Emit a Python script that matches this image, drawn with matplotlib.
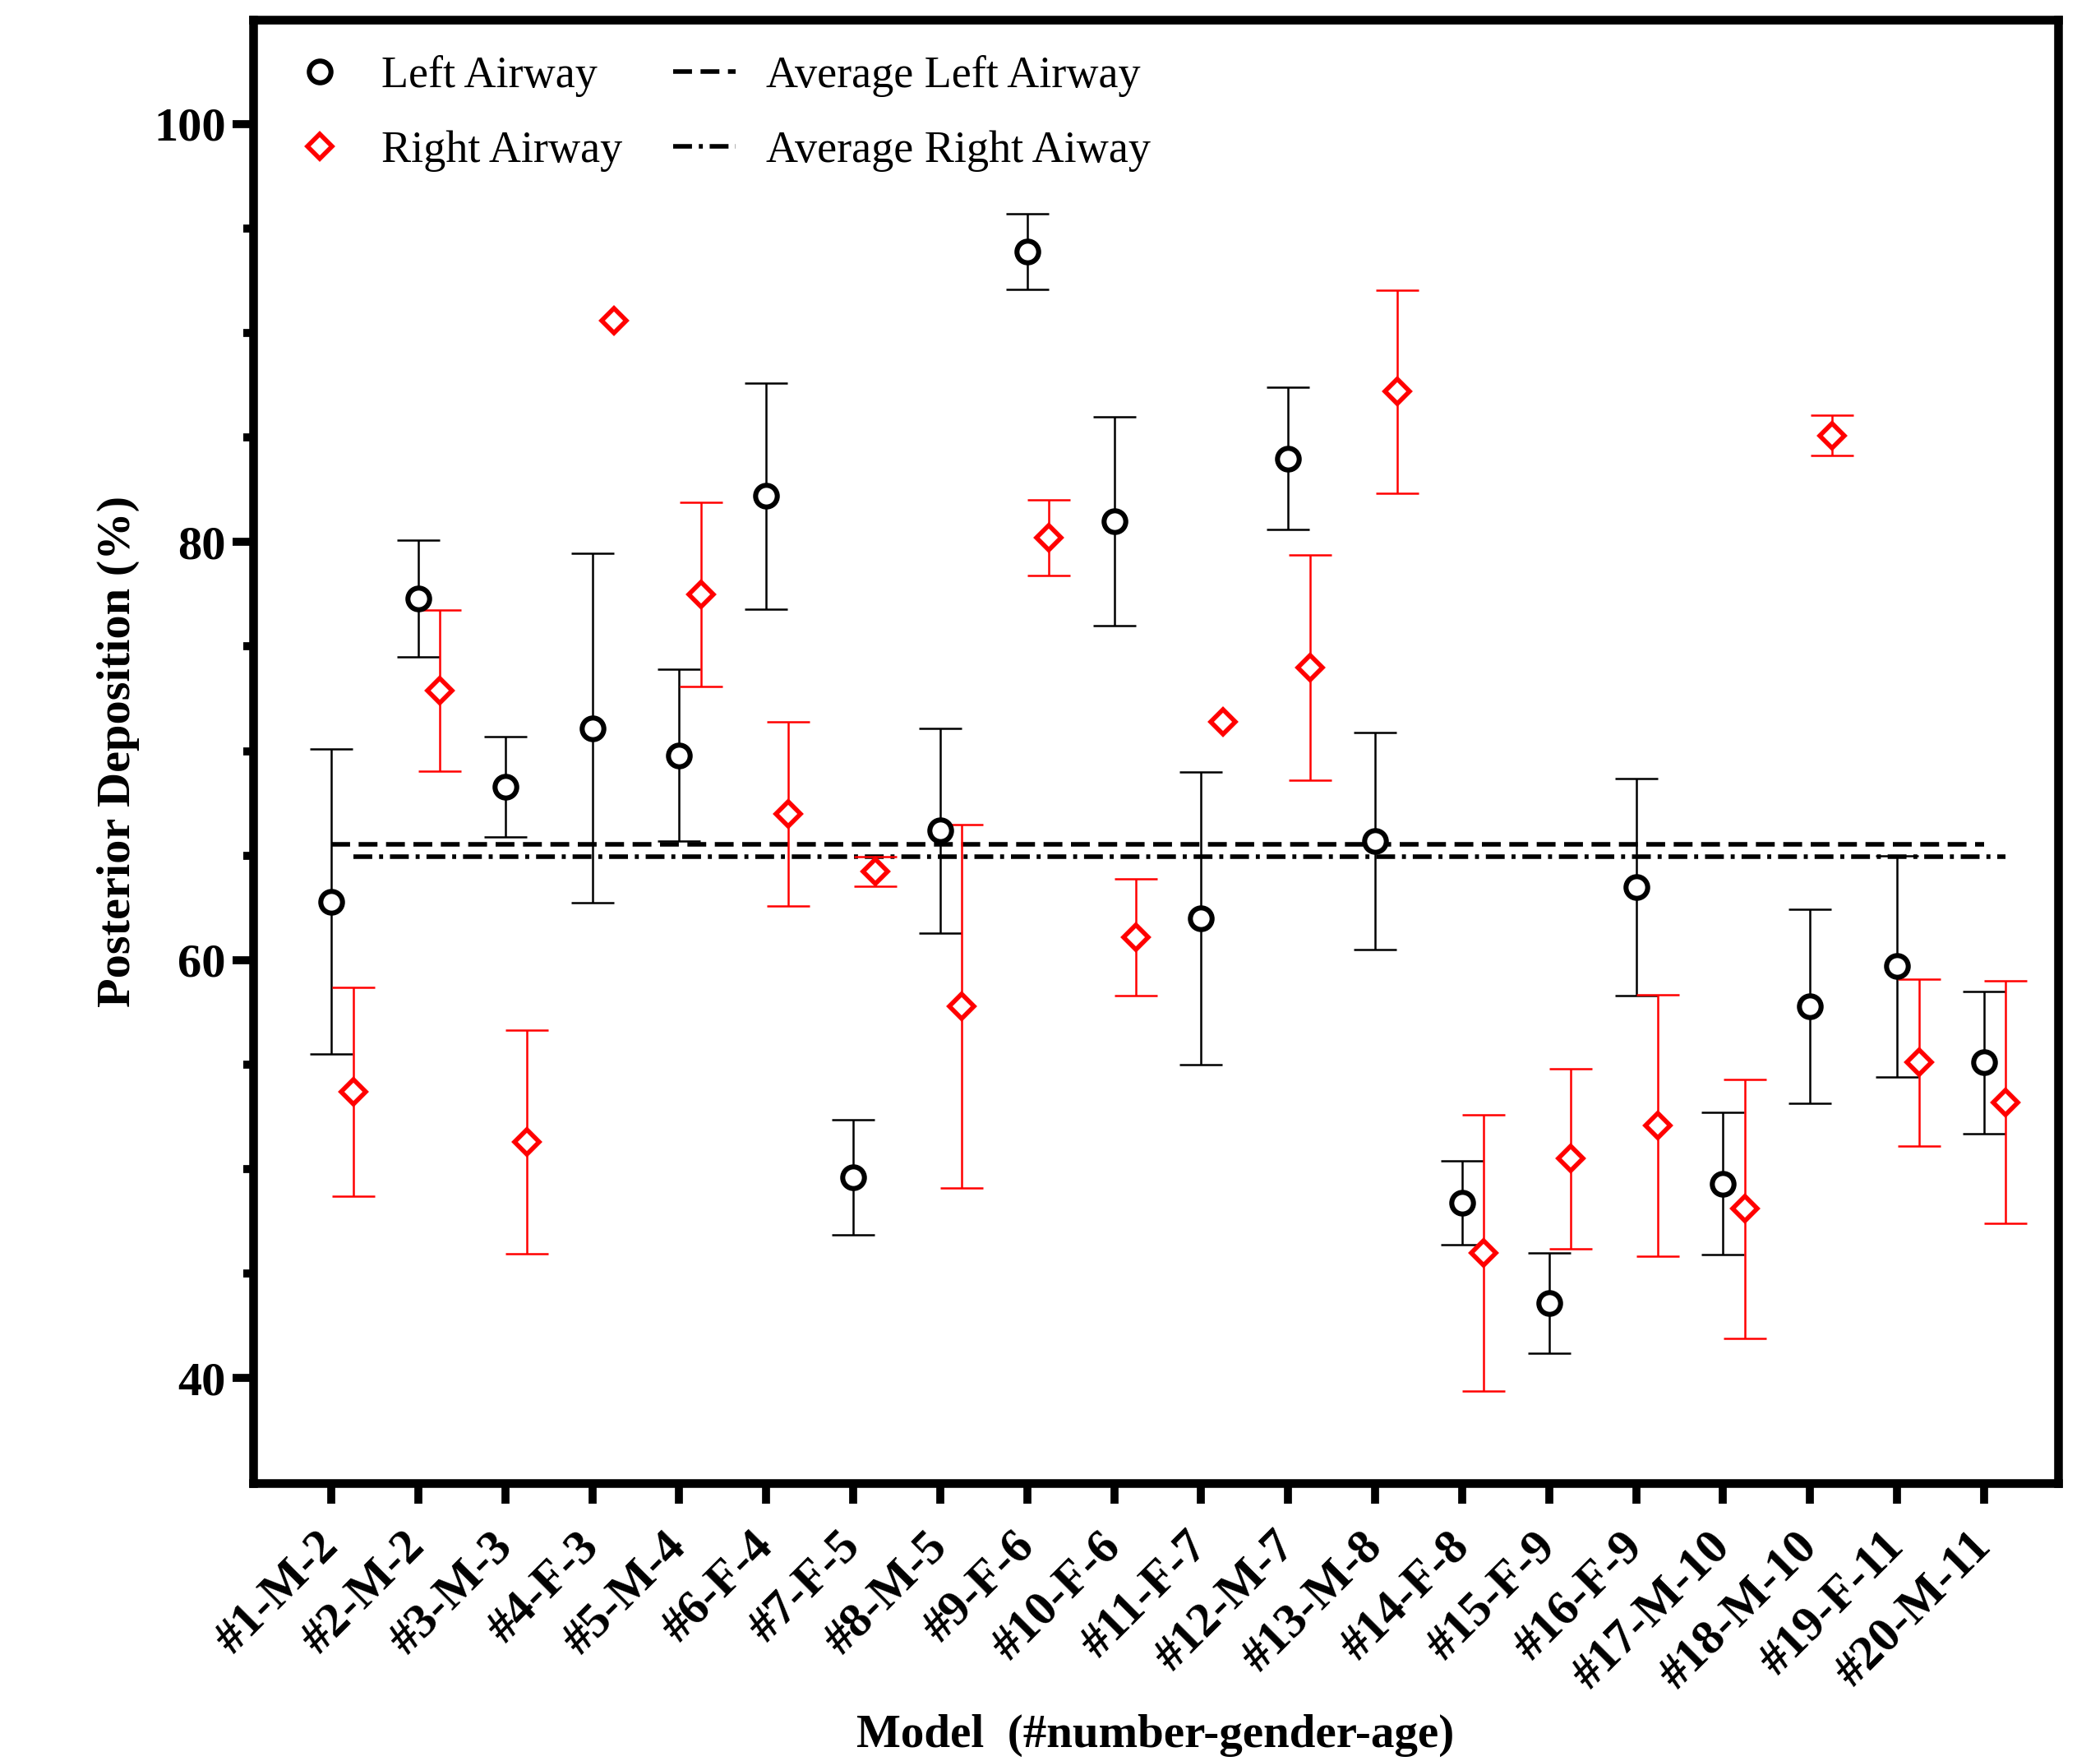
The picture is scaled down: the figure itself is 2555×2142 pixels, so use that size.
import numpy as np
import matplotlib
matplotlib.use("Agg")
import matplotlib.pyplot as plt
from matplotlib.transforms import ScaledTranslation

plt.rcParams['font.family'] = ['Liberation Serif', 'DejaVu Serif']
plt.rcParams['lines.scale_dashes'] = False

# models (#number-gender-age)
models = ["#1-M-2", "#2-M-2", "#3-M-3", "#4-F-3", "#5-M-4", "#6-F-4", "#7-F-5",
          "#8-M-5", "#9-F-6", "#10-F-6", "#11-F-7", "#12-M-7", "#13-M-8", "#14-F-8",
          "#15-F-9", "#16-F-9", "#17-M-10", "#18-M-10", "#19-F-11", "#20-M-11"]

left_mean = [62.8, 77.3, 68.3, 71.1, 69.8, 82.2, 49.6, 66.2, 93.9, 81.0,
             62.0, 84.0, 65.7, 48.4, 43.6, 63.5, 49.3, 57.8, 59.7, 55.1]
left_err = [7.3, 2.8, 2.4, 8.35, 4.1, 5.4, 2.75, 4.9, 1.8, 5.0,
            7.0, 3.4, 5.2, 2.0, 2.4, 5.2, 3.4, 4.65, 5.3, 3.4]

right_mean = [53.7, 72.9, 51.3, 90.6, 77.5, 67.0, 64.25, 57.8, 80.2, 61.1,
              71.4, 74.0, 87.2, 46.0, 50.5, 52.1, 48.1, 85.1, 55.1, 53.2]
right_err = [5.0, 3.85, 5.35, 0.0, 4.4, 4.4, 0.7, 8.7, 1.8, 2.8,
             0.0, 5.4, 4.85, 6.6, 4.3, 6.25, 6.2, 0.95, 4.0, 5.8]

avg_left = 65.53
avg_right = 64.95

x = np.arange(1, len(models) + 1)
offset = 0.25

fig = plt.figure(figsize=(25.55, 21.42), dpi=100)
ax = fig.add_axes([0.1205, 0.158, 0.8595, 0.831])

# average lines
l_avg, = ax.plot([x[0], x[-1]], [avg_left, avg_left], color='black', lw=4,
                 dashes=(16.5, 7.5), zorder=2, label='Average Left Airway')
r_avg, = ax.plot([x[0] + offset, x[-1] + offset], [avg_right, avg_right], color='black',
                 lw=4, dashes=(16.5, 6, 3.5, 6), zorder=2, label='Average Right Aiway')

# left airway
le = np.array(left_err)
lm = np.array(left_mean)
ax.errorbar(x[le > 0], lm[le > 0], yerr=le[le > 0], fmt='none', ecolor='black',
            elinewidth=1.8, capsize=19, capthick=1.8, zorder=3)
l_pts, = ax.plot(x, left_mean, 'o', ms=19, mfc='white', mec='black', mew=4.4,
                 zorder=4, label='Left Airway', linestyle='none')

# right airway (no bar where the error is 0)
re = np.array(right_err)
rm = np.array(right_mean)
ax.errorbar(x[re > 0] + offset, rm[re > 0], yerr=re[re > 0], fmt='none', ecolor='red',
            elinewidth=1.8, capsize=19, capthick=1.8, zorder=3)
r_pts, = ax.plot(x + offset, right_mean, 'D', ms=15, mfc='white', mec='red', mew=4,
                 zorder=4, label='Right Airway', linestyle='none')

ax.set_xlim(0.1, 20.85)
ax.set_ylim(35, 105)

ax.set_yticks([40, 60, 80, 100])
ax.set_yticks(np.arange(45, 105, 5), minor=True)
ax.set_yticklabels(['40', '60', '80', '100'], fontsize=42, fontweight='bold')
ax.set_xticks(x)
ax.set_xticklabels(models, fontsize=43, fontweight='bold', rotation=45,
                   ha='right', va='center', rotation_mode='anchor')
shift = ScaledTranslation(0.10, 0, fig.dpi_scale_trans)
for lbl in ax.get_xticklabels():
    lbl.set_transform(lbl.get_transform() + shift)

for s in ax.spines.values():
    s.set_linewidth(7.6)
ax.tick_params(axis='both', which='major', length=18, width=7)
ax.tick_params(axis='y', which='minor', length=9, width=7)
ax.tick_params(axis='x', which='major', pad=32)
ax.tick_params(axis='y', which='major', pad=6)

ax.set_ylabel('Posterior Deposition (%)', fontsize=42, fontweight='bold', labelpad=12)
ax.set_xlabel('Model  (#number-gender-age)', fontsize=41, fontweight='bold', labelpad=14)

ax.legend(handles=[l_pts, r_pts, l_avg, r_avg], ncol=2, loc='upper left',
          frameon=False, fontsize=39, handlelength=1.4, handletextpad=0.68,
          columnspacing=1.15, labelspacing=0.75, borderaxespad=0.4)

fig.savefig('out.png', dpi=100)
